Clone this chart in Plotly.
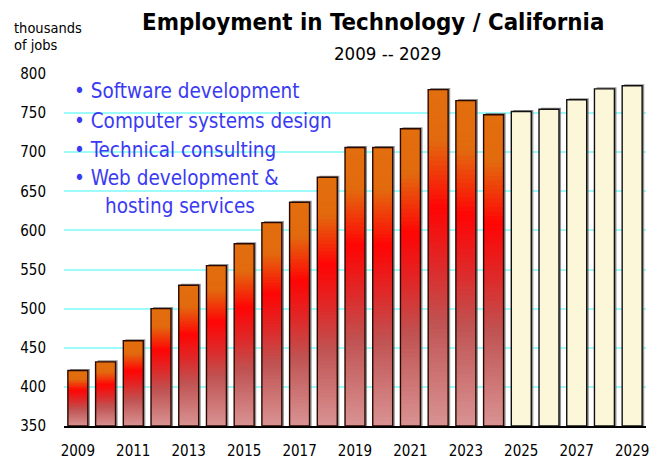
import plotly.graph_objects as go

# Employment in technology, California (thousands of jobs)
years = list(range(2009, 2030))
jobs = [421, 432, 459, 500, 530, 555, 583, 610, 636, 668, 706,
        706, 730, 780, 766, 748, 752, 755, 767, 781, 785]
first_projection_year = 2025
y_ticks = [350, 400, 450, 500, 550, 600, 650, 700, 750, 800]
x_tick_years = list(range(2009, 2030, 2))
sectors = ["• Software development", "• Computer systems design",
           "• Technical consulting", "• Web development &",
           "hosting services"]

Y_MIN, Y_MAX = 350, 800
BAR_W = 0.72
FONT = "DejaVu Sans Condensed, Liberation Sans, Arial, sans-serif"

# vertical gradient stops for the historical bars (0 = top, 1 = bottom)
stops = [(0.00, (226, 110, 14)), (0.14, (226, 106, 14)),
         (0.34, (255, 5, 5)), (0.50, (225, 38, 38)),
         (0.68, (192, 82, 82)), (1.00, (218, 150, 150))]


def grad_color(t):
    for (t0, c0), (t1, c1) in zip(stops[:-1], stops[1:]):
        if t <= t1:
            f = (t - t0) / (t1 - t0) if t1 > t0 else 0
            return "rgb(%d,%d,%d)" % tuple(round(a + (b - a) * f) for a, b in zip(c0, c1))
    return "rgb(%d,%d,%d)" % stops[-1][1]


hist_x = [y for y in years if y < first_projection_year]
hist_v = [v for y, v in zip(years, jobs) if y < first_projection_year]
proj_x = [y for y in years if y >= first_projection_year]
proj_v = [v for y, v in zip(years, jobs) if y >= first_projection_year]

fig = go.Figure()

# soft drop shadow to the right of every bar
fig.add_trace(go.Bar(
    x=years, y=[v - Y_MIN + 2 for v in jobs], base=Y_MIN,
    width=BAR_W, offset=-BAR_W / 2 + 0.075,
    marker=dict(color="rgba(110,110,110,0.75)", line=dict(width=0)),
    hoverinfo="skip", showlegend=False))

# historical bars: stacked thin slices to build the vertical gradient
N = 70
for k in range(N):
    t = 1 - (k + 0.5) / N  # 0 at the top of the bar
    col = grad_color(t)
    bases, heights = [], []
    for v in hist_v:
        dh = (v - Y_MIN) / N
        lo = Y_MIN + k * dh
        ext = 0.8 * dh if k > 0 else 0
        bases.append(lo - ext)
        heights.append(dh + ext)
    fig.add_trace(go.Bar(
        x=hist_x, y=heights, base=bases, width=BAR_W,
        marker=dict(color=col, line=dict(width=0)),
        hoverinfo="skip", showlegend=False))

# projected bars
fig.add_trace(go.Bar(
    x=proj_x, y=[v - Y_MIN for v in proj_v], base=Y_MIN, width=BAR_W,
    marker=dict(color="#FDF7DA", line=dict(color="#111111", width=1.4)),
    showlegend=False))

# outlines of the historical bars
fig.add_trace(go.Bar(
    x=hist_x, y=[v - Y_MIN for v in hist_v], base=Y_MIN, width=BAR_W,
    marker=dict(color="rgba(0,0,0,0)", line=dict(color="#2a0a00", width=1.4)),
    showlegend=False))

L, R, T, B = 64, 14, 74, 33.5
W, H = 660, 460
pw, ph = W - L - R, H - T - B


def px(x):
    return (x - L) / pw


def py(y):
    return (H - B - y) / ph


annotations = [
    dict(text="<b>Employment in Technology / California</b>", x=px(372.5), y=py(21.5),
         font=dict(size=23.8, color="black", family=FONT)),
    dict(text="2009 -- 2029", x=px(387.5), y=py(53.5),
         font=dict(size=18.5, color="black", family=FONT)),
    dict(text="thousands", x=px(12), y=py(28), xanchor="left",
         font=dict(size=14.5, color="black", family=FONT)),
    dict(text="of jobs", x=px(12), y=py(45), xanchor="left",
         font=dict(size=14.5, color="black", family=FONT)),
]
line_y = [91.5, 121, 150, 178.5, 206.5]
for i, (s, yy) in enumerate(zip(sectors, line_y)):
    annotations.append(dict(
        text=s, x=px(103 if i == len(sectors) - 1 else 72), y=py(yy), xanchor="left",
        font=dict(size=20.5, color="#3A3AF2", family=FONT)))
for a in annotations:
    a.update(xref="paper", yref="paper", showarrow=False)
    a.setdefault("xanchor", "center")
    a.setdefault("yanchor", "middle")

fig.update_layout(
    template="none",
    width=W, height=H,
    margin=dict(l=L, r=R, t=T, b=B, pad=0),
    paper_bgcolor="white", plot_bgcolor="white",
    barmode="overlay",
    showlegend=False,
    annotations=annotations,
    font=dict(family=FONT, size=15, color="black"),
    xaxis=dict(range=[2008.5, 2029.5], tickmode="array", tickvals=x_tick_years,
               ticktext=[str(y) for y in x_tick_years], automargin=False,
               showgrid=False, zeroline=False, showline=True,
               linecolor="black", linewidth=1.6,
               ticks="outside", ticklen=10, tickcolor="rgba(0,0,0,0)",
               tickfont=dict(size=15, family=FONT)),
    yaxis=dict(range=[Y_MIN, Y_MAX], tickmode="array", tickvals=y_ticks,
               automargin=False,
               showgrid=True, gridcolor="#9EFBFB", gridwidth=1.6,
               zeroline=False, showline=False,
               ticks="outside", ticklen=14, tickcolor="rgba(0,0,0,0)",
               tickfont=dict(size=15, family=FONT)),
)

fig.write_html("out.html")
